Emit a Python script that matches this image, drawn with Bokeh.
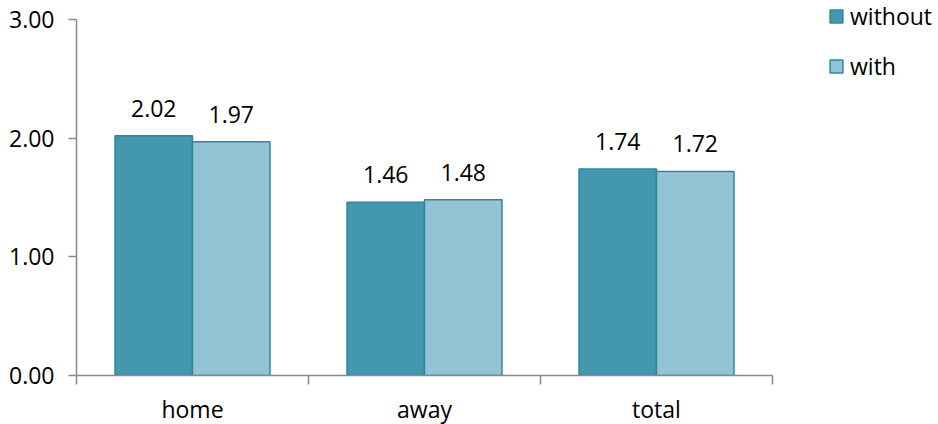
import numpy as np
from bokeh.plotting import figure
from bokeh.core.properties import value
from bokeh.models import (ColumnDataSource, FixedTicker, NumeralTickFormatter, LinearAxis,
                          Legend, LegendItem, LabelSet, Range1d)
from bokeh.transform import dodge
from bokeh.embed import file_html
from bokeh.resources import INLINE

categories = ["home", "away", "total"]
without_vals = [2.02, 1.46, 1.74]
with_vals = [1.97, 1.48, 1.72]
y_ticks = [0, 1, 2, 3]

FONT = "Open Sans"
FS = "23px"
AXIS_COLOR = "#898989"
C_WITHOUT = "#4397AE"
C_WITH = "#93C4D5"
C_EDGE = "#31859C"
BAR_W = 0.334

# layout (pixels)
LEFT = 76
AXIS_W = 696          # width of the category axis
FRAME_W = 938 - LEFT  # frame extends to the right edge to host the legend
AXIS_H = 356          # height of the value axis (0..3)
TOP_EXTRA = 19        # space above the value axis
FRAME_H = AXIS_H + TOP_EXTRA

n = len(categories)
y_max = y_ticks[-1]
x_end = n * FRAME_W / AXIS_W
y_end = y_max * FRAME_H / AXIS_H

x = list(np.arange(n) + 0.5)
src = ColumnDataSource(dict(
    x=x,
    without=without_vals,
    with_=with_vals,
    lab_without=[f"{v:.2f}" for v in without_vals],
    lab_with=[f"{v:.2f}" for v in with_vals],
))

p = figure(frame_width=FRAME_W, frame_height=FRAME_H,
           x_range=Range1d(0, x_end), y_range=Range1d(0, y_end),
           output_backend="svg", toolbar_location=None,
           x_axis_type=None, y_axis_type=None,
           min_border_left=LEFT, min_border_right=0, min_border_top=0, min_border_bottom=30)
p.outline_line_color = None
p.background_fill_color = "white"
p.border_fill_color = "white"

r1 = p.vbar(x=dodge("x", -BAR_W / 2, range=p.x_range), top="without", width=BAR_W, source=src,
            fill_color=C_WITHOUT, line_color=C_EDGE, line_width=1.5)
r2 = p.vbar(x=dodge("x", BAR_W / 2, range=p.x_range), top="with_", width=BAR_W, source=src,
            fill_color=C_WITH, line_color=C_EDGE, line_width=1.5)

for col, lab, off in (("without", "lab_without", -BAR_W / 2), ("with_", "lab_with", BAR_W / 2)):
    p.add_layout(LabelSet(x=dodge("x", off, range=p.x_range), y=col, text=lab, source=src,
                          text_align="center", text_baseline="alphabetic", y_offset=19,
                          text_font=value(FONT), text_font_size=value(FS), text_color="black"))

yaxis = LinearAxis(ticker=FixedTicker(ticks=y_ticks), formatter=NumeralTickFormatter(format="0.00"),
                   bounds=(0, y_max))
yaxis.axis_line_color = AXIS_COLOR
yaxis.axis_line_width = 1.5
yaxis.major_tick_line_color = AXIS_COLOR
yaxis.major_tick_line_width = 1.5
yaxis.major_tick_out = 8
yaxis.major_tick_in = 0
yaxis.minor_tick_line_color = None
yaxis.major_label_standoff = 14
yaxis.major_label_text_font = FONT
yaxis.major_label_text_font_size = FS
yaxis.major_label_text_color = "black"
p.add_layout(yaxis, "left")

xaxis = LinearAxis(ticker=FixedTicker(ticks=x, minor_ticks=list(range(n + 1))),
                   major_label_overrides={xi: c for xi, c in zip(x, categories)},
                   bounds=(0, n))
xaxis.axis_line_color = AXIS_COLOR
xaxis.axis_line_width = 1.5
xaxis.major_tick_line_color = None
xaxis.major_tick_out = 0
xaxis.major_tick_in = 0
xaxis.minor_tick_line_color = AXIS_COLOR
xaxis.minor_tick_line_width = 1.5
xaxis.minor_tick_out = 9
xaxis.minor_tick_in = 0
xaxis.major_label_standoff = 8
xaxis.major_label_text_font = FONT
xaxis.major_label_text_font_size = FS
xaxis.major_label_text_color = "black"
p.add_layout(xaxis, "below")

legend = Legend(items=[LegendItem(label="without", renderers=[r1]),
                       LegendItem(label="with", renderers=[r2])],
                location=(752, 293), orientation="vertical",
                border_line_color=None, background_fill_alpha=0,
                padding=0, margin=0, spacing=18,
                glyph_width=16, glyph_height=16, label_height=16, label_standoff=6,
                label_text_font=FONT, label_text_font_size=FS, label_text_color="black")
p.add_layout(legend)

open("out.html", "w").write(file_html(p, INLINE))
